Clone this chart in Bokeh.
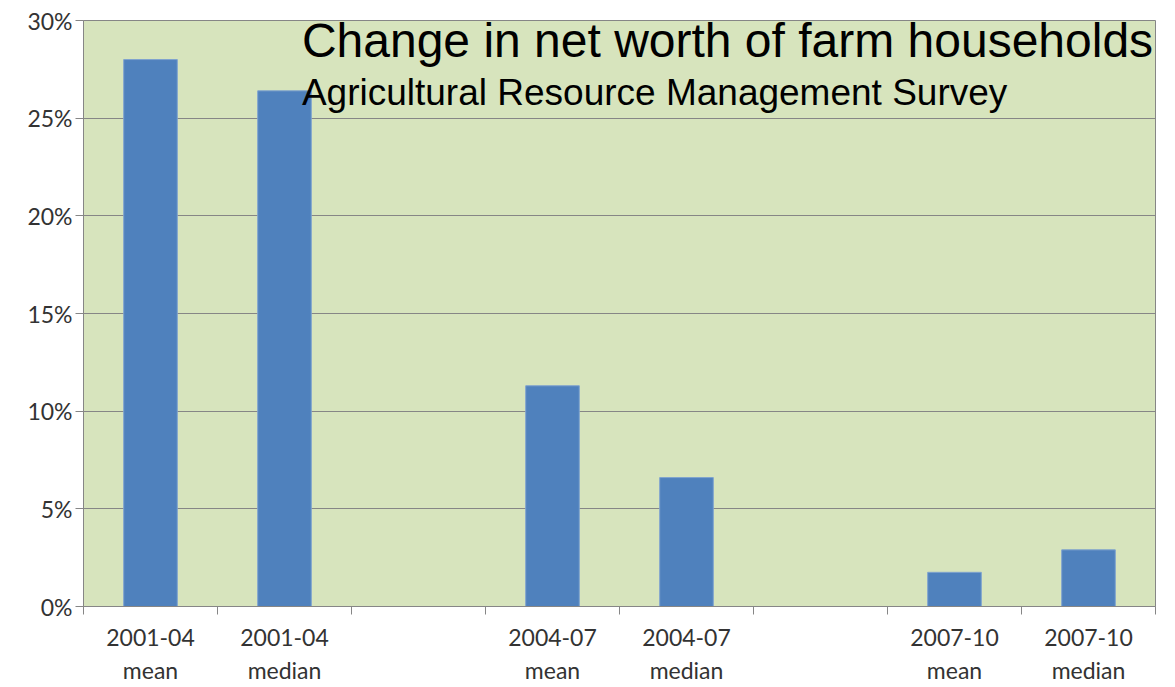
from bokeh.plotting import figure
from bokeh.models import (Range1d, FixedTicker, NumeralTickFormatter, Label, ColumnDataSource)
from bokeh.embed import file_html
from bokeh.resources import INLINE
import numpy as np

# ---- data ----
categories = ["2001-04\nmean", "2001-04\nmedian", "", "2004-07\nmean", "2004-07\nmedian",
              "", "2007-10\nmean", "2007-10\nmedian"]
values = [0.280, 0.264, None, 0.113, 0.066, None, 0.0175, 0.029]
y_ticks = [0.0, 0.05, 0.10, 0.15, 0.20, 0.25, 0.30]
title_text = "Change in net worth of farm households,"
subtitle_text = "Agricultural Resource Management Survey"

idx = np.arange(len(categories))
centers = idx + 0.5
bars_x = [c for c, v in zip(centers, values) if v is not None]
bars_top = [v for v in values if v is not None]
src = ColumnDataSource(dict(x=bars_x, top=bars_top))

TICK_FONT = "Lato"
LABEL_COLOR = "#333333"
AXIS_COLOR = "#868686"

p = figure(width=1167, height=687, output_backend="svg", toolbar_location=None,
           x_range=Range1d(0, len(categories)), y_range=Range1d(0, 0.30),
           min_border_left=83, min_border_top=20, min_border_right=12, min_border_bottom=80)

p.background_fill_color = "#D7E4BD"
p.border_fill_color = "white"
p.outline_line_color = AXIS_COLOR
p.outline_line_width = 1

p.vbar(x="x", top="top", width=0.40, bottom=0, source=src,
       fill_color="#4F81BD", line_color="#7FA3CF", line_width=1)

# y axis
p.yaxis.ticker = FixedTicker(ticks=y_ticks)
p.yaxis.formatter = NumeralTickFormatter(format="0%")
p.yaxis.axis_line_color = AXIS_COLOR
p.yaxis.major_tick_line_color = AXIS_COLOR
p.yaxis.major_tick_in = 0
p.yaxis.major_tick_out = 8
p.yaxis.minor_tick_line_color = None
p.yaxis.major_label_text_font = TICK_FONT
p.yaxis.major_label_text_font_size = "23px"
p.yaxis.major_label_text_color = LABEL_COLOR
p.yaxis.major_label_standoff = 3

p.ygrid.grid_line_color = AXIS_COLOR
p.ygrid.grid_line_width = 1
p.ygrid.ticker = FixedTicker(ticks=y_ticks)
p.xgrid.grid_line_color = None

# x axis: labels at category centres, tick marks at boundaries
p.xaxis.ticker = FixedTicker(ticks=list(centers), minor_ticks=list(np.arange(len(categories) + 1)))
p.xaxis.major_label_overrides = {float(c): lab for c, lab in zip(centers, categories)}
p.xaxis.axis_line_color = AXIS_COLOR
p.xaxis.major_tick_line_color = None
p.xaxis.major_tick_in = 0
p.xaxis.major_tick_out = 0
p.xaxis.minor_tick_line_color = AXIS_COLOR
p.xaxis.minor_tick_in = 0
p.xaxis.minor_tick_out = 8
p.xaxis.major_label_text_font = TICK_FONT
p.xaxis.major_label_text_font_size = "23px"
p.xaxis.major_label_text_color = LABEL_COLOR
p.xaxis.major_label_standoff = 8
p.xaxis.major_label_text_line_height = 1.2

# in-plot title
p.add_layout(Label(x=1.63, y=0.2898, text=title_text, text_font="Liberation Sans",
                   text_font_size="48px", text_color="black", text_baseline="alphabetic",
                   level="overlay"))
p.add_layout(Label(x=1.63, y=0.2629, text=subtitle_text, text_font="Liberation Sans",
                   text_font_size="37px", text_color="black", text_baseline="alphabetic",
                   level="overlay"))

open("out.html", "w").write(file_html(p, INLINE))
